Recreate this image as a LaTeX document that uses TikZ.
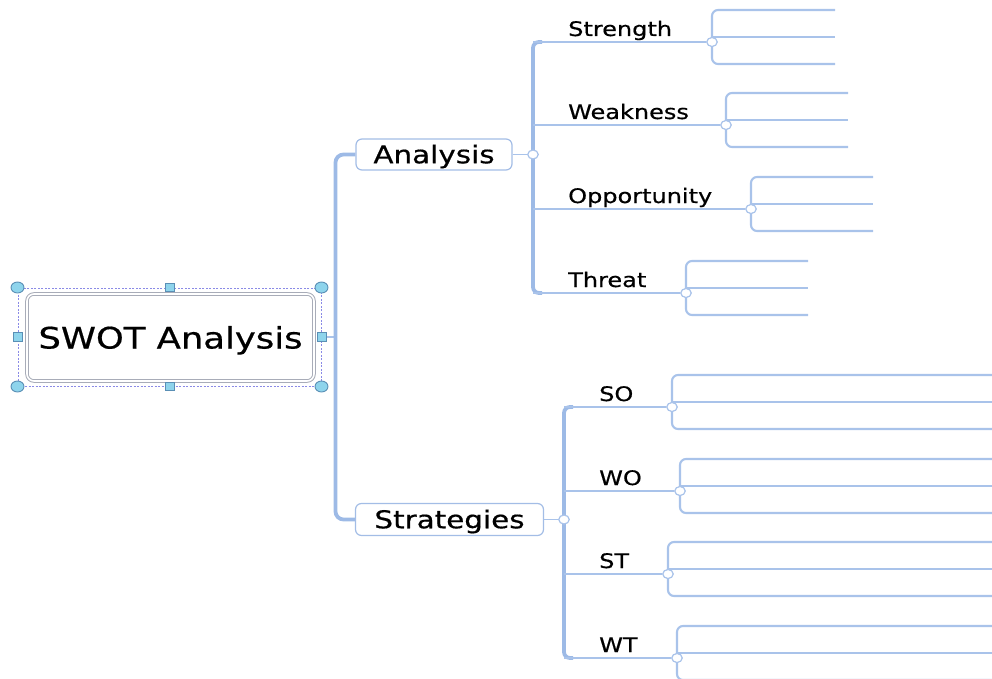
\documentclass[tikz,border=0pt]{standalone}
\usepackage{fontspec}
\setmainfont{DejaVu Sans}
\newfontfamily\wfont[FakeStretch=1.2,FakeBold=0.6]{DejaVu Sans}
\usetikzlibrary{shapes.geometric}
\definecolor{trunkc}{HTML}{9DBAE6}
\definecolor{thinc}{HTML}{A9C3EA}
\definecolor{boxc}{HTML}{A3BDE6}
\definecolor{boxgray}{HTML}{A8ACB8}
\definecolor{selc}{HTML}{8A8AE6}
\definecolor{handlef}{HTML}{8ED4EC}
\definecolor{handled}{HTML}{5A8FB5}
\pgfdeclarelayer{bg}
\pgfsetlayers{bg,main}
\begin{document}
\begin{tikzpicture}[x=1pt,y=-1pt,
  trunk/.style={draw=trunkc,line width=3.8pt},
  thinline/.style={draw=thinc,line width=1.4pt},
  bracket/.style={draw=thinc,line width=2.1pt},
  topic/.style={draw=boxc,line width=1.2pt,fill=white,rounded corners=6pt,
    font=\wfont\fontsize{24.5}{28}\selectfont,text height=17.5pt,text depth=0pt,inner sep=0pt},
  mainbox/.style={draw=boxgray,double=white,double distance=1.6pt,line width=1pt,
    rounded corners=7pt,minimum width=287pt,minimum height=87pt,inner sep=0pt,
    font=\wfont\fontsize{29.5}{34}\selectfont,text height=22pt,text depth=0pt},
  selbox/.style={draw=selc,dash pattern=on 2pt off 1.5pt,line width=1pt,
    minimum width=303pt,minimum height=98pt,inner sep=0pt},
  hcirc/.style={ellipse,draw=handled,fill=handlef,line width=0.9pt,
    minimum width=13pt,minimum height=11pt,inner sep=0pt},
  hsq/.style={rectangle,draw=handled,fill=handlef,line width=0.9pt,
    minimum width=9pt,minimum height=8.5pt,inner sep=0pt},
  junc/.style={ellipse,draw=thinc,fill=white,line width=1.2pt,
    minimum width=10.5pt,minimum height=9pt,inner sep=0pt},
  lab/.style={font=\wfont\fontsize{20}{24}\selectfont,inner sep=0pt,anchor=base west}
]
\useasboundingbox (0,0) rectangle (992,679);

% central topic with selection frame
\node[selbox] (sel) at (169.5,337) {};
\node[mainbox] (swot) at (170.5,337.5) {SWOT Analysis};
\foreach \a in {north west,north east,south west,south east}
  \node[hcirc] at (sel.\a) {};
\foreach \a in {north,south,west,east}
  \node[hsq] at (sel.\a) {};

% main topics
\node[topic,minimum width=156pt,minimum height=31pt] (an) at (434,154.5) {Analysis};
\node[topic,minimum width=188pt,minimum height=32pt] (st) at (449.5,519.5) {Strategies};

\coordinate (tk) at (335.5,337);
\node[junc] (ja) at (533,154.5) {};
\node[junc] (js) at (564,519.5) {};

\begin{pgfonlayer}{bg}
  \draw[thinline] (sel.east) -- (tk);
  \draw[trunk,rounded corners=8pt] (an.west) -| (tk) |- (st.west);
  \draw[thinline] (an.east) -- (ja);
  \draw[thinline] (st.east) -- (js);
\end{pgfonlayer}

% Analysis branches
\coordinate (bS) at (533,42);
\coordinate (bT) at (533,293);
\begin{pgfonlayer}{bg}
  \draw[trunk,rounded corners=6pt] ([xshift=9pt]bS) -- (bS) -- (bT) -- ([xshift=9pt]bT);
\end{pgfonlayer}
\foreach \nm/\lab/\yb/\xj/\xe in {S/Strength/42/712/835,W/Weakness/125/726/848,
    O/Opportunity/209/751/873,T/Threat/293/686/808} {
  \coordinate (b\nm) at (533,\yb);
  \node[junc] (j\nm) at (\xj,\yb) {};
  \node[lab] (l\nm) at (568,\yb-6) {\lab};
  \coordinate (t\nm) at (\xe,\yb-32);
  \coordinate (m\nm) at (\xe,\yb-5);
  \coordinate (e\nm) at (\xe,\yb+22);
  \begin{pgfonlayer}{bg}
    \draw[thinline] (b\nm) -- (j\nm);
    \draw[bracket,rounded corners=6pt] (t\nm) -| (j\nm.center) |- (e\nm);
    \draw[thinline] (j\nm.center |- m\nm) -- (m\nm);
  \end{pgfonlayer}
}

% Strategies branches
\coordinate (bSO) at (564,407);
\coordinate (bWT) at (564,658);
\begin{pgfonlayer}{bg}
  \draw[trunk,rounded corners=6pt] ([xshift=9pt]bSO) -- (bSO) -- (bWT) -- ([xshift=9pt]bWT);
\end{pgfonlayer}
\foreach \nm/\lab/\yb/\xj in {SO/SO/407/672,WO/WO/491/680,ST/ST/574/668,WT/WT/658/677} {
  \coordinate (b\nm) at (564,\yb);
  \node[junc] (j\nm) at (\xj,\yb) {};
  \node[lab] (l\nm) at (599,\yb-6) {\lab};
  \coordinate (t\nm) at (1000,\yb-32);
  \coordinate (m\nm) at (1000,\yb-5);
  \coordinate (e\nm) at (1000,\yb+22);
  \begin{pgfonlayer}{bg}
    \draw[thinline] (b\nm) -- (j\nm);
    \draw[bracket,rounded corners=6pt] (t\nm) -| (j\nm.center) |- (e\nm);
    \draw[thinline] (j\nm.center |- m\nm) -- (m\nm);
  \end{pgfonlayer}
}
\end{tikzpicture}
\end{document}
